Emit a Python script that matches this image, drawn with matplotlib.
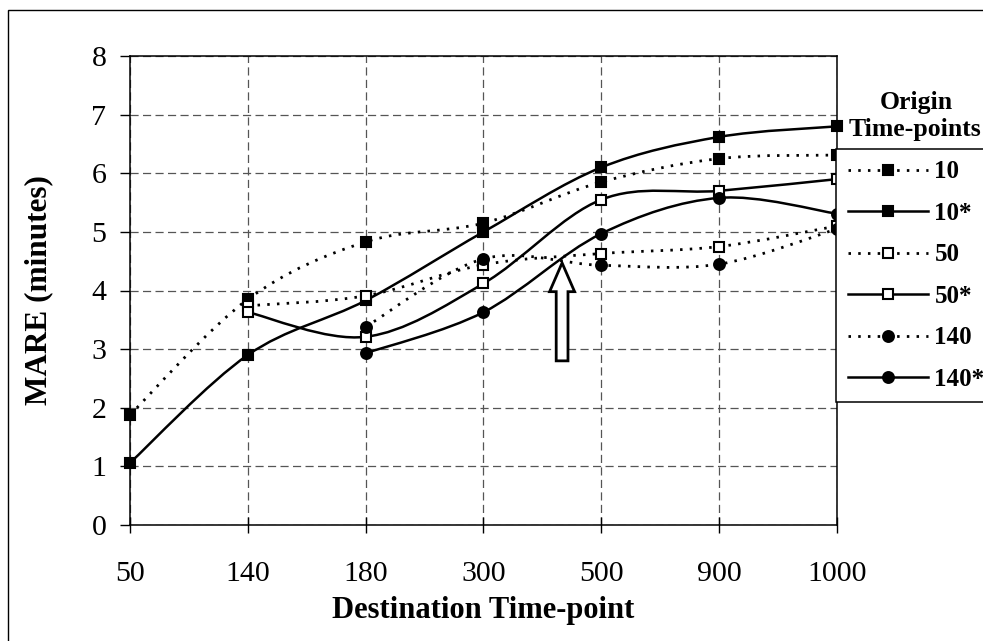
import numpy as np
import matplotlib
matplotlib.use('Agg')
import matplotlib.pyplot as plt
from matplotlib.path import Path
from matplotlib.patches import PathPatch, Rectangle, FancyArrow
from matplotlib.lines import Line2D

plt.rcParams['font.family'] = ['Liberation Serif', 'DejaVu Serif']

dest = ['50', '140', '180', '300', '500', '900', '1000']
nan = np.nan
s10   = [1.88, 3.85, 4.83, 5.15, 5.85, 6.25, 6.31]
s10s  = [1.06, 2.90, 3.83, 5.00, 6.10, 6.62, 6.80]
s50   = [nan, 3.74, 3.91, 4.44, 4.63, 4.75, 5.10]
s50s  = [nan, 3.63, 3.21, 4.12, 5.55, 5.70, 5.90]
s140  = [nan, nan, 3.38, 4.54, 4.43, 4.45, 5.05]
s140s = [nan, nan, 2.93, 3.63, 4.97, 5.58, 5.31]

labels = ['10', '10*', '50', '50*', '140', '140*']
series = [s10, s10s, s50, s50s, s140, s140s]
markers = ['s', 's', 's', 's', 'o', 'o']
filled = [True, True, False, False, True, True]
dotted = [True, False, True, False, True, False]

DOT = (0, (0.9, 2.6))


def smooth_path(x, y):
    # excel-like smoothed line: cubic bezier through the points
    pts = np.column_stack([x, y])
    n = len(pts)
    verts = [pts[0]]
    codes = [Path.MOVETO]
    for i in range(n - 1):
        p0 = pts[max(i - 1, 0)]
        p1 = pts[i]
        p2 = pts[i + 1]
        p3 = pts[min(i + 2, n - 1)]
        verts += [p1 + (p2 - p0) / 6, p2 - (p3 - p1) / 6, p2]
        codes += [Path.CURVE4] * 3
    return Path(verts, codes)


fig = plt.figure(figsize=(9.83, 6.41), dpi=100)
ax = fig.add_axes([130/983, 1-525/641, 707/983, 469/641])

xs = np.arange(len(dest))
handles = []
for y, lab, m, f, d in zip(series, labels, markers, filled, dotted):
    y = np.array(y)
    ok = ~np.isnan(y)
    ls = DOT if d else '-'
    lw = 2.0 if d else 1.8
    ax.add_patch(PathPatch(smooth_path(xs[ok], y[ok]), fill=False,
                           ec='black', lw=lw, ls=ls, zorder=3))
    fc = 'black' if f else 'white'
    ms = 7.2 if m == 's' else 7.8
    ax.plot(xs[ok], y[ok], ls='none', marker=m, ms=ms, mfc=fc, mec='black',
            mew=1.5, zorder=4, clip_on=False)
    handles.append(Line2D([], [], color='black', lw=lw, ls=ls, marker=m,
                          ms=ms, mfc=fc, mec='black', mew=1.5))

# hollow arrow
ax.add_patch(FancyArrow(3.667, 2.80, 0, 4.47 - 2.80, width=0.100,
                        head_width=0.212, head_length=0.49,
                        length_includes_head=True, fc='white', ec='black',
                        lw=2.0, zorder=5))

ax.set_xlim(0, 6)
ax.set_ylim(0, 8)
ax.set_xticks(xs)
ax.set_xticklabels(dest)
ax.set_yticks(range(0, 9))
ax.tick_params(axis='y', direction='out', length=7, width=1, labelsize=21.5, pad=10)
ax.tick_params(axis='x', direction='inout', length=12, width=1, labelsize=21.5, pad=20)
for s in ax.spines.values():
    s.set_linewidth(1.1)
ax.grid(True, color='#555555', lw=0.9, ls=(0, (6.5, 3.5)))
ax.set_axisbelow(True)

ax.set_ylabel('MARE (minutes)', fontsize=22.5, fontweight='bold')
ax.yaxis.set_label_coords(-0.108, 0.5)
ax.set_xlabel('Destination Time-point', fontsize=22, fontweight='bold')
ax.xaxis.set_label_coords(0.5, -0.152)

leg = fig.legend(handles, labels, loc='upper left',
                 bbox_to_anchor=(836/983, 1-149/641),
                 bbox_transform=fig.transFigure, borderaxespad=0,
                 fancybox=False, framealpha=1, edgecolor='black',
                 prop={'family': 'Liberation Serif', 'weight': 'bold', 'size': 18},
                 handlelength=3.2, handletextpad=0.28, labelspacing=0.74,
                 borderpad=0.46)
leg.get_frame().set_linewidth(1.1)

fig.text(916/983, 1-102/641, 'Origin', ha='center', va='center',
         fontsize=18.5, fontweight='bold')
fig.text(915/983, 1-130/641, 'Time-points', ha='center', va='center',
         fontsize=18.5, fontweight='bold')

fig.add_artist(Rectangle((8/983, -0.1), 1.2, 1 - 10/641 + 0.1,
                         transform=fig.transFigure, fill=False, ec='black',
                         lw=1.0))

fig.savefig('out.png', dpi=100)
